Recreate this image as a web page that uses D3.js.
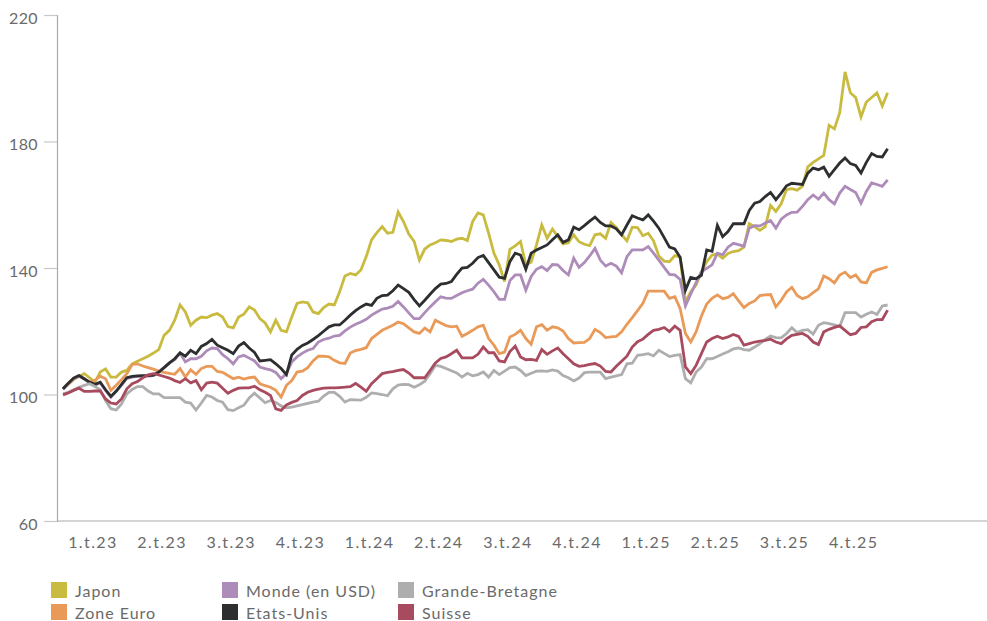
<!DOCTYPE html>
<html><head><meta charset="utf-8">
<script src="https://cdn.jsdelivr.net/npm/d3@7"></script>
<style>
html,body{margin:0;padding:0;background:#fff;}
svg text{font-family:Lato,"Open Sans",sans-serif;fill:#6a6a6a;}
</style></head>
<body><svg id="c" width="987" height="621"></svg>
<script>
// Weekly index values, week 0 = early Jan 2023 ... week 155 = end Dec 2025
const quarterLabels = ["1.t.23","2.t.23","3.t.23","4.t.23","1.t.24","2.t.24","3.t.24","4.t.24","1.t.25","2.t.25","3.t.25","4.t.25"];
const yTicks = [60,100,140,180,220];
const seriesNames = ["Japon","Zone Euro","Monde (en USD)","Etats-Unis","Grande-Bretagne","Suisse"];
const seriesColors = ["#c9bb3f","#ea9a58","#ae8cb9","#2c2e30","#aeaeae","#a84b5f"];

const japon = [101.8,103.2,104.7,105.7,106.6,105.3,103.9,107.1,108.1,105.5,105.5,107.1,107.6,109.7,110.5,111.3,112.1,113.1,114.2,118.7,
120.3,123.5,128.3,126.1,121.9,123.5,124.5,124.3,125.1,125.6,124.5,121.5,121.1,124.5,125.4,127.7,126.7,124.0,122.6,119.8,
123.5,120.3,119.8,124.5,128.8,129.3,129.0,126.1,125.6,127.5,128.6,128.3,132.5,137.5,138.3,137.8,139.4,143.6,148.9,151.2,
153.1,151.0,151.3,157.7,154.7,150.7,148.4,142.5,146.0,147.3,148.0,148.9,148.7,148.4,149.1,149.4,148.7,154.7,157.4,156.8,
151.0,144.7,141.0,135.7,145.9,147.0,148.4,141.0,141.8,147.3,153.6,149.4,152.3,150.0,147.6,148.0,150.5,148.3,147.5,147.1,
150.5,150.8,149.4,154.4,152.8,150.5,148.6,152.9,152.8,150.2,151.0,148.6,143.8,142.2,142.0,143.9,143.4,129.3,132.5,134.6,
138.8,142.0,144.1,144.4,143.1,144.6,145.2,145.5,146.6,154.0,153.1,151.9,153.1,159.8,157.9,160.3,164.8,165.1,164.6,165.8,
172.0,173.4,174.5,175.6,185.1,184.0,189.1,202.0,195.4,193.9,187.8,192.5,193.9,195.4,191.2,195.4];

const zoneEuro = [101.8,103.6,105.2,106.0,105.0,103.9,104.5,105.8,105.0,101.3,102.9,104.7,106.6,109.5,109.7,109.0,108.5,108.0,107.4,107.0,
106.7,106.4,108.2,105.5,107.8,106.4,108.2,108.9,108.9,107.3,107.0,106.0,105.0,105.5,104.9,105.3,105.5,103.4,102.8,102.3,
101.3,99.2,102.9,104.4,107.1,107.4,108.5,110.6,112.1,112.1,111.9,110.8,110.0,109.8,113.1,113.9,114.3,114.8,117.7,119.0,
120.3,121.1,121.9,122.9,122.4,121.1,119.8,119.3,121.0,119.8,123.5,122.6,121.8,121.4,121.6,118.4,119.3,120.3,121.4,121.9,
117.7,115.6,112.9,113.4,118.2,119.0,120.3,117.7,115.9,121.4,122.1,120.3,121.4,121.1,120.1,117.7,116.3,116.4,116.5,117.7,
120.6,119.6,118.0,118.2,118.4,119.8,122.2,124.3,126.5,128.8,132.7,132.7,132.7,132.7,130.4,130.9,127.2,119.3,116.6,119.8,
124.8,128.6,130.4,131.5,130.3,130.7,131.9,129.6,127.5,128.8,129.6,131.3,131.5,131.6,127.7,129.8,132.4,133.9,131.3,130.3,
130.9,132.2,133.4,137.5,136.6,135.3,137.8,138.7,137.0,137.8,135.6,135.3,138.6,139.4,139.9,140.4];

const monde = [101.6,103.4,105.0,105.8,104.8,103.7,103.0,103.7,101.3,99.2,100.9,103.0,105.1,105.5,105.7,105.8,105.8,106.0,107.1,108.5,
109.9,111.0,113.1,110.3,111.3,111.3,112.1,113.8,114.7,114.5,112.6,111.3,109.7,111.9,112.4,111.5,110.6,108.7,108.2,107.8,
107.0,105.0,106.6,110.3,111.9,113.1,114.0,114.5,116.6,117.4,117.8,118.5,118.7,120.1,121.3,122.2,122.9,123.8,125.1,126.1,
127.0,127.3,127.9,129.4,127.7,125.8,124.0,124.0,125.9,127.7,129.3,130.9,130.5,130.4,131.3,132.2,132.8,133.3,135.2,136.4,
134.6,132.5,130.1,130.1,136.0,137.8,137.8,133.0,137.3,139.6,140.4,139.2,141.1,141.0,139.2,137.8,143.1,140.2,141.7,143.8,
146.2,142.5,140.6,141.5,140.6,138.5,143.6,145.7,145.7,145.7,146.8,144.7,142.5,140.2,138.0,137.8,136.4,128.0,131.8,135.4,
138.8,139.9,141.0,144.7,144.2,146.6,147.8,147.4,146.9,152.6,153.4,153.3,154.2,155.0,152.6,155.4,156.8,157.6,157.7,159.5,
161.6,163.1,161.8,163.7,161.6,160.3,163.7,165.8,164.8,163.9,160.5,164.2,166.9,166.4,165.8,167.9];

const etatsUnis = [101.8,103.6,105.2,106.0,105.0,103.9,103.2,103.9,101.5,99.4,101.1,103.2,105.3,105.7,105.9,106.0,106.0,106.1,107.1,108.5,
110.0,111.3,113.2,112.1,114.0,112.9,115.2,116.1,117.4,115.6,114.8,114.0,112.9,115.3,116.4,114.7,113.3,110.6,110.8,111.0,
109.7,108.2,106.3,112.5,114.3,115.5,116.3,117.4,118.6,120.0,121.4,122.0,122.0,123.5,125.1,126.5,127.7,128.6,128.2,130.4,
131.3,131.4,132.8,134.6,133.5,132.3,130.0,128.0,129.8,131.7,133.5,134.9,135.1,135.7,138.0,140.0,140.2,141.5,143.3,144.0,
141.7,139.4,137.1,136.7,142.0,144.7,144.1,139.6,144.7,145.7,146.5,147.3,148.9,150.5,148.1,148.9,152.9,152.1,153.4,154.8,
156.1,154.4,153.3,153.3,152.4,150.5,153.6,156.5,155.8,155.2,156.8,154.8,152.6,149.6,146.6,146.0,143.4,133.0,137.0,136.6,
137.7,145.7,145.3,153.5,149.9,151.5,154.0,154.0,154.0,158.2,160.5,161.0,162.6,163.9,161.6,163.7,166.0,166.8,166.6,166.4,
170.0,171.6,171.1,171.9,169.0,171.1,173.2,174.8,173.0,172.4,170.0,173.4,176.2,175.3,175.1,177.7];

const grandeBretagne = [100.2,100.7,101.5,102.3,102.9,103.4,102.5,101.5,98.1,95.5,95.1,97.0,100.2,101.6,102.5,102.5,101.1,100.2,100.2,99.0,
99.0,99.0,99.0,97.6,97.3,95.1,97.3,99.7,99.2,98.1,97.6,95.2,94.9,95.8,96.6,98.9,100.4,98.9,97.4,98.1,
97.5,96.4,95.8,96.0,96.4,96.8,97.2,97.6,97.9,99.5,100.7,100.7,99.4,97.6,98.4,98.3,98.2,99.1,100.5,100.3,
100.0,99.6,101.8,103.0,103.2,103.1,102.3,103.1,104.2,106.6,109.2,108.9,108.2,107.5,106.8,105.5,106.7,105.9,106.3,107.1,
105.5,107.6,106.3,107.4,108.5,108.7,107.6,106.0,106.7,107.4,107.5,107.3,107.8,107.4,106.0,105.3,104.3,105.2,106.9,107.1,
107.1,107.1,105.0,105.5,105.9,106.3,109.7,109.9,112.4,112.6,112.9,112.2,114.0,113.0,112.0,112.4,112.6,105.0,103.7,107.1,
108.7,111.3,111.3,112.0,112.8,113.5,114.4,114.7,114.2,114.0,115.0,116.1,117.4,118.5,118.0,117.9,119.3,121.1,119.6,120.3,
120.5,119.1,121.9,122.7,122.4,122.0,121.5,125.9,125.9,125.9,124.5,125.4,126.1,125.3,128.0,128.3];

const suisse = [99.9,100.5,101.3,102.0,101.0,101.0,101.1,101.1,98.6,97.3,97.0,98.6,101.8,103.4,104.1,105.3,106.2,106.6,106.2,105.7,
105.2,104.4,103.8,105.0,103.7,104.4,101.5,103.6,103.9,103.6,102.0,100.4,101.3,102.0,102.1,102.1,102.6,101.5,100.7,99.7,
95.5,95.0,96.7,97.5,98.1,99.7,100.7,101.3,101.7,102.0,102.1,102.1,102.2,102.3,102.5,103.5,102.3,101.0,103.4,105.0,
106.6,107.0,107.2,107.6,107.9,106.8,105.3,105.3,105.3,107.6,110.0,111.4,111.9,112.9,114.0,111.6,111.6,111.6,112.7,115.0,
113.2,113.2,110.6,110.3,113.6,115.3,111.9,111.0,111.1,110.8,114.2,112.7,113.8,114.7,112.9,111.3,109.7,108.9,109.1,109.5,
109.8,109.0,107.3,107.1,108.9,110.5,112.1,115.0,116.7,117.5,119.0,120.3,120.6,121.2,119.9,121.6,120.3,108.7,106.6,109.2,
112.9,116.6,117.7,118.4,117.7,118.2,119.0,118.4,115.6,116.1,116.6,116.9,117.1,117.5,116.6,116.1,117.6,118.7,119.0,119.3,
118.4,116.6,115.8,119.8,120.6,121.2,121.7,120.3,118.9,119.3,121.2,121.4,123.0,123.7,123.7,126.7];

const seriesValues = [japon, zoneEuro, monde, etatsUnis, grandeBretagne, suisse];
// position (in weeks) of the first quarter label and spacing in weeks
const firstLabelWeek = 5.4, weeksPerQuarter = 13;

const svg = d3.select("#c");
const nWeeks = japon.length;
const x = d3.scaleLinear().domain([0, nWeeks - 1]).range([63, 887.6]);
const y = d3.scaleLinear().domain([60, 220]).range([521, 15]);

// y axis
const yAxis = svg.append("g").attr("transform", "translate(57,0)")
  .call(d3.axisLeft(y).tickValues(yTicks).tickSize(13).tickPadding(6).tickFormat(d3.format("d")));
yAxis.select(".domain").attr("stroke", "#aaa").attr("stroke-width", 1.2);
yAxis.selectAll(".tick line").attr("stroke", "#c8c8c8").attr("stroke-width", 1.2);
yAxis.selectAll(".tick text").attr("font-size", 16).attr("fill", "#6a6a6a")
  .attr("dy", "0.5em").attr("letter-spacing", "0.4px").attr("font-family", "Lato, sans-serif");

// x axis baseline
svg.append("line").attr("x1", 57).attr("x2", 987).attr("y1", y(60)).attr("y2", y(60))
  .attr("stroke", "#aaa").attr("stroke-width", 1.2);
const xAxis = svg.append("g").attr("transform", `translate(0,${y(60)})`)
  .call(d3.axisBottom(x).tickValues(quarterLabels.map((d, i) => firstLabelWeek + i * weeksPerQuarter))
    .tickSize(0).tickPadding(16).tickFormat((d, i) => quarterLabels[i]));
xAxis.select(".domain").remove();
xAxis.selectAll(".tick text").attr("font-size", 16).attr("fill", "#6a6a6a")
  .attr("letter-spacing", "1.4px").attr("dx", "0.7px").attr("font-family", "Lato, sans-serif");

// lines
const line = d3.line().x((d, i) => x(i)).y(d => y(d));
svg.append("g").selectAll("path").data(seriesValues).join("path")
  .attr("d", d => line(d)).attr("fill", "none")
  .attr("stroke", (d, i) => seriesColors[i]).attr("stroke-width", 2.8)
  .attr("stroke-linejoin", "miter");

// legend
const legCols = [51, 222, 398];
const leg = svg.append("g").selectAll("g").data(seriesNames).join("g")
  .attr("transform", (d, i) => `translate(${legCols[Math.floor(i / 2)]},${582 + (i % 2) * 22})`);
leg.append("rect").attr("width", 16).attr("height", 16).attr("fill", (d, i) => seriesColors[i]);
leg.append("text").attr("x", 24).attr("y", 15).attr("font-size", 16)
  .attr("letter-spacing", "1px").text(d => d);
</script></body></html>
